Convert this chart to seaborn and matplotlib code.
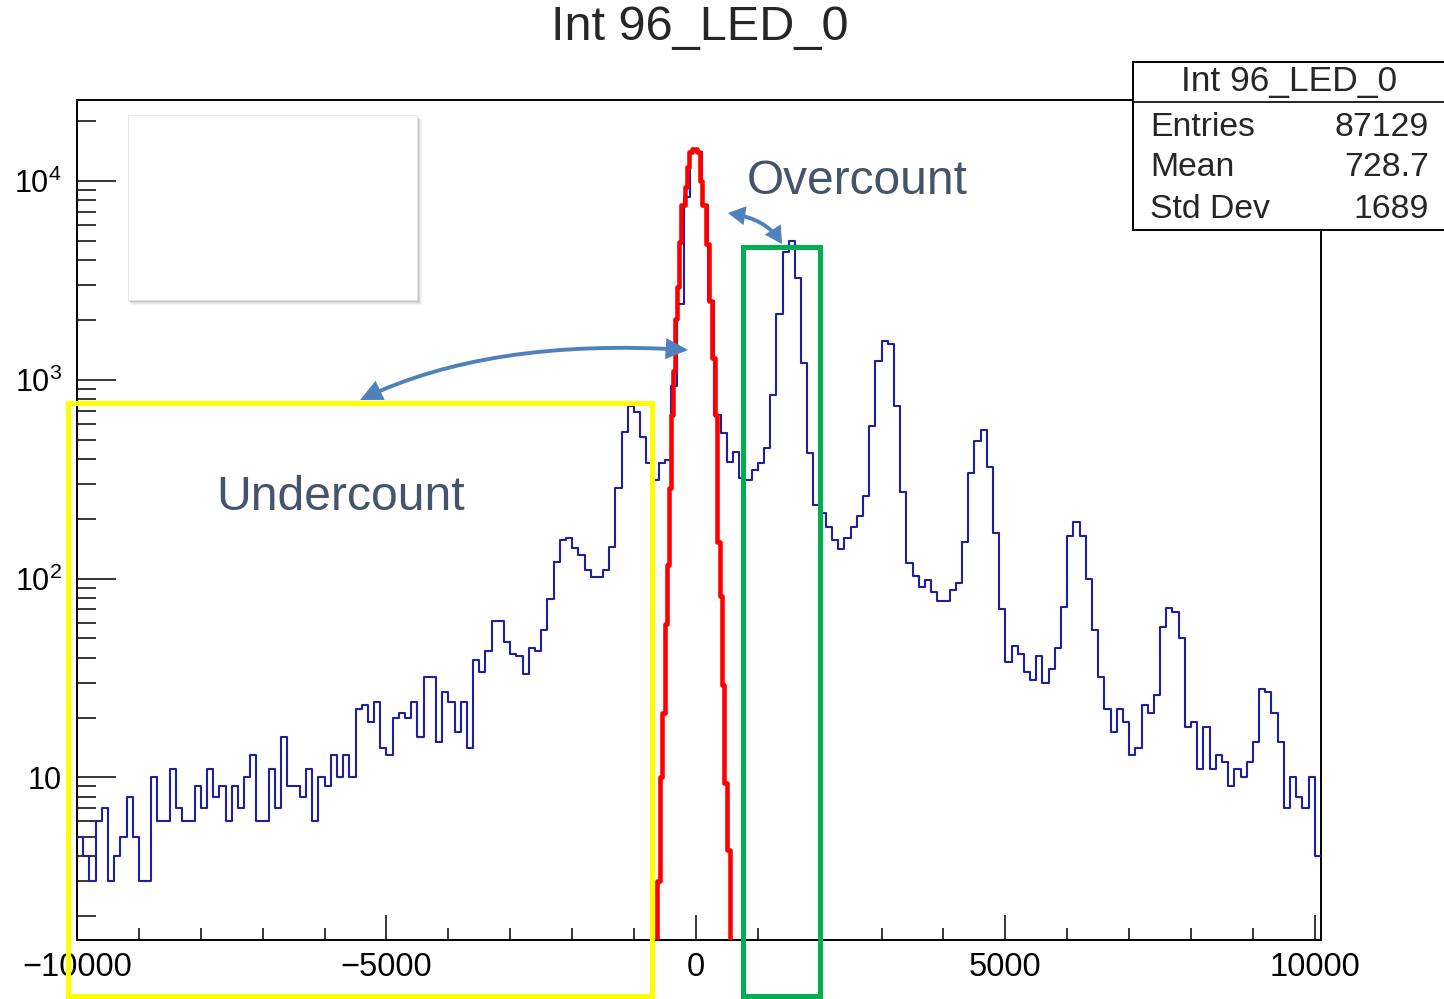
import numpy as np
import pandas as pd
import matplotlib
matplotlib.use("Agg")
import matplotlib.pyplot as plt
import seaborn as sns
from matplotlib.patches import Rectangle, FancyArrowPatch
from matplotlib.lines import Line2D
from matplotlib.path import Path
from matplotlib.ticker import (FixedLocator, FixedFormatter, MultipleLocator,
                               LogLocator, NullFormatter)

# ---------------- data ----------------
hist_title = "Int 96_LED_0"

# integrated charge histogram: 201 bins of width 100 starting at -10000
bin_start = -10000
bin_width = 100
led_counts = [
    5, 4, 3, 6, 7, 3, 4, 5, 8, 5, 3, 3, 10, 6, 6, 11, 7, 6, 6, 9,
    7, 11, 8, 9, 6, 9, 7, 10, 13, 6, 6, 11, 7, 16, 9, 9, 8, 11, 6, 10,
    9, 13, 10, 13, 10,
    22, 23, 19, 24, 14, 13, 20, 21, 20, 24, 16, 32, 32, 15, 27, 24, 17, 24, 14, 39,
    34, 43, 61, 61, 48, 42, 41, 33, 45, 43, 55, 79, 121, 156, 160, 142, 131, 110, 102, 102,
    111, 145,
    285, 544, 741, 687, 514, 384, 314, 381, 396, 930, 2400, 8300, 14000, 14000, 7600, 2500,
    668, 540, 388, 436, 320, 314, 352, 381, 453, 843, 2138, 4377, 5012, 3273, 1219, 430, 234,
    213, 182, 156, 141, 161, 182, 207, 262, 588, 1250, 1578, 1507, 741, 272, 120, 103, 91, 98,
    86, 77, 77, 88, 95, 152, 342, 490, 557, 366, 169, 70, 38, 46, 42, 34, 31, 41, 30, 35,
    45, 72, 164, 192, 164, 100, 55, 32,
    22, 17, 22, 19, 13, 14, 23, 21, 26, 57, 71, 68, 50, 18, 19, 11, 18, 11, 13, 12,
    9, 11, 10, 12, 15, 28, 27, 21, 15, 7, 10, 8, 7, 10, 4,
]

# pedestal peak (red), finer steps
pedestal_edges = [-665, -625, -582, -544, -505, -473, -436, -399, -367, -344, -312,
                  -275, -238, -183, -150, -113, -60, 11, 64, 102, 157, 210, 263,
                  302, 338, 388, 425, 452, 505, 549, 589]
pedestal_counts = [0, 3, 10, 21, 59, 117, 285, 668, 1107, 2020, 2920, 4920, 7570,
                   9330, 11770, 14000, 14550, 14000, 10070, 7570, 4820, 2495, 1291,
                   668, 153, 82, 29, 9.4, 4.3, 0]

stats_labels = ["Entries", "Mean", "Std Dev"]
stats_values = ["87129", "728.7", "1689"]

x_major_ticks = [-10000, -5000, 0, 5000, 10000]
x_tick_labels = ["\u221210000", "\u22125000", "0", "5000", "10000"]
y_major_ticks = [10, 100, 1000, 10000]
y_tick_labels = ["10", "$\\mathregular{10^{2}}$", "$\\mathregular{10^{3}}$",
                 "$\\mathregular{10^{4}}$"]

undercount_label = "Undercount"
overcount_label = "Overcount"

# ---------------- style ----------------
sns.set_style("ticks")
plt.rcParams["font.family"] = ["Liberation Sans", "DejaVu Sans"]
plt.rcParams["mathtext.fontset"] = "custom"
plt.rcParams["mathtext.rm"] = "Liberation Sans"
plt.rcParams["mathtext.it"] = "Liberation Sans:italic"
plt.rcParams["mathtext.bf"] = "Liberation Sans:bold"
plt.rcParams["axes.unicode_minus"] = True

W, H = 1444, 999
BLUE = "#1f1fa3"
NOTE_BLUE = "#4F81BD"
NOTE_TEXT = "#44546A"


def fxy(px, py):
    """pixel position (from top-left) -> figure fraction"""
    return px / W, 1 - py / H


fig = plt.figure(figsize=(W / 100, H / 100), dpi=100)
fig.patch.set_facecolor("white")
x0, y_top = 77, 100
x1, y_bot = 1321, 940
ax = fig.add_axes([x0 / W, 1 - y_bot / H, (x1 - x0) / W, (y_bot - y_top) / H])

edges = bin_start + bin_width * np.arange(len(led_counts) + 1)
led_df = pd.DataFrame({"charge": edges[:-1] + bin_width / 2,
                       "count": np.asarray(led_counts, dtype=float)})
sns.histplot(data=led_df, x="charge", weights="count", bins=list(edges),
             element="step", fill=False, color=BLUE, linewidth=1.5, ax=ax,
             zorder=3)

ped_edges = np.asarray(pedestal_edges, dtype=float)
ped_df = pd.DataFrame({"charge": (ped_edges[:-1] + ped_edges[1:]) / 2,
                       "count": np.asarray(pedestal_counts, dtype=float)})
sns.histplot(data=ped_df, x="charge", weights="count", bins=list(ped_edges),
             element="step", fill=False, color="#ff0000", linewidth=3.3,
             ax=ax, zorder=4)

ax.set_yscale("log")
ax.set_xlim(-10000, 10100)
ax.set_ylim(1.52, 25600)
ax.set_xlabel("")
ax.set_ylabel("")

ax.xaxis.set_major_locator(FixedLocator(x_major_ticks))
ax.xaxis.set_major_formatter(FixedFormatter(x_tick_labels))
ax.xaxis.set_minor_locator(MultipleLocator(1000))
ax.yaxis.set_major_locator(FixedLocator(y_major_ticks))
ax.yaxis.set_major_formatter(FixedFormatter(y_tick_labels))
ax.yaxis.set_minor_locator(LogLocator(base=10, subs=np.arange(2, 10), numticks=30))
ax.yaxis.set_minor_formatter(NullFormatter())

ax.tick_params(axis="both", which="both", direction="in", color="black",
               labelcolor="black", width=1.1, top=False, right=False)
ax.tick_params(axis="x", which="major", length=18, labelsize=23.5, pad=9)
ax.tick_params(axis="x", which="minor", length=8.5)
ax.tick_params(axis="y", which="major", length=28, labelsize=22, pad=11)
ax.tick_params(axis="y", which="minor", length=14)
for sp in ax.spines.values():
    sp.set_color("black")
    sp.set_linewidth(1.4)

# ---------------- title ----------------
fig.text(*fxy(700, 28), hist_title, ha="center", va="center", fontsize=35)

# ---------------- stats box ----------------
bx0, by0, bx1, by1 = 1133, 62, 1460, 230
fig.add_artist(Rectangle(fxy(bx0, by1), (bx1 - bx0) / W, (by1 - by0) / H,
                         transform=fig.transFigure, facecolor="white",
                         edgecolor="black", linewidth=1.4, zorder=5))
sx, sy = zip(fxy(bx0, 102), fxy(W, 102))
fig.add_artist(Line2D(sx, sy, transform=fig.transFigure, color="black",
                      linewidth=1.2, zorder=6))
fig.text(*fxy(1289, 82), hist_title, ha="center", va="center", fontsize=25.5,
         zorder=7)
for i, (lab, val) in enumerate(zip(stats_labels, stats_values)):
    yy = 127 + i * 41
    fig.text(*fxy(1150, yy), lab, ha="left", va="center", fontsize=24.3, zorder=7)
    fig.text(*fxy(1429, yy), val, ha="right", va="center", fontsize=24.3, zorder=7)

# ---------------- empty panel with soft shadow ----------------
px0, py0, px1, py1 = 128, 115, 417, 300
for off, a in [(5, 0.03), (4, 0.05), (3, 0.07), (2, 0.09), (1, 0.10)]:
    fig.add_artist(Rectangle(fxy(px0 + off * 0.5, py1 + off), (px1 - px0 + off * 0.5) / W,
                             (py1 - py0) / H, transform=fig.transFigure,
                             facecolor="black", alpha=a, edgecolor="none", zorder=5))
fig.add_artist(Rectangle(fxy(px0, py1), (px1 - px0) / W, (py1 - py0) / H,
                         transform=fig.transFigure, facecolor="white",
                         edgecolor="#e4e4e4", linewidth=0.6, zorder=5.1))

# ---------------- highlight boxes ----------------
yx0, yy0, yx1, yy1 = 68, 403, 652, 996
fig.add_artist(Rectangle(fxy(yx0, yy1), (yx1 - yx0) / W, (yy1 - yy0) / H,
                         transform=fig.transFigure, fill=False,
                         edgecolor="#FFFF00", linewidth=3.6, zorder=8))
gx0, gy0, gx1, gy1 = 743, 247, 820, 996
fig.add_artist(Rectangle(fxy(gx0, gy1), (gx1 - gx0) / W, (gy1 - gy0) / H,
                         transform=fig.transFigure, fill=False,
                         edgecolor="#00B050", linewidth=3.6, zorder=8))

# ---------------- curved double arrows ----------------
def curved_arrow(p0, pc, p1, scale, hl, hw):
    verts = [fxy(*p0), fxy(*pc), fxy(*p1)]
    path = Path(verts, [Path.MOVETO, Path.CURVE3, Path.CURVE3])
    arr = FancyArrowPatch(path=path, transform=fig.transFigure,
                          arrowstyle=f"<|-|>,head_length={hl},head_width={hw}",
                          mutation_scale=scale, linewidth=2.8, color=NOTE_BLUE,
                          joinstyle="miter", zorder=9)
    fig.add_artist(arr)


curved_arrow((360, 400), (490, 338), (688, 350), 12, 0.95, 0.45)
curved_arrow((728, 213), (766, 219), (782, 244), 9, 0.9, 0.5)

fig.text(*fxy(341, 497), undercount_label, ha="center", va="center",
         fontsize=34.7, color=NOTE_TEXT, zorder=9)
fig.text(*fxy(857, 181), overcount_label, ha="center", va="center",
         fontsize=34.5, color=NOTE_TEXT, zorder=9)

fig.savefig("out.png", dpi=100, facecolor="white")
